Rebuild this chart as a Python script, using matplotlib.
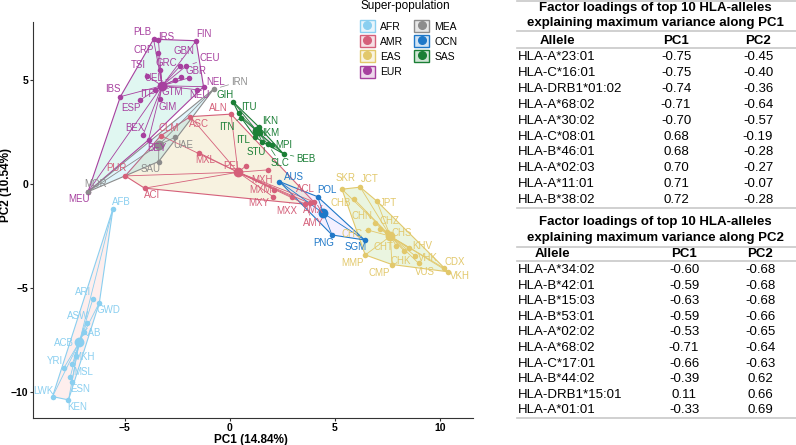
import numpy as np
import matplotlib
matplotlib.use("Agg")
import matplotlib.pyplot as plt
from matplotlib.patches import Patch, Polygon
from matplotlib.lines import Line2D
from matplotlib.legend_handler import HandlerTuple
from matplotlib.colors import to_rgba

plt.rcParams['font.family'] = ['Liberation Sans', 'DejaVu Sans']

groups = ['AFR', 'AMR', 'EAS', 'EUR', 'MEA', 'OCN', 'SAS']
colors = ['#8ACFF0', '#D5607A', '#E2C86B', '#A7409F', '#8C8C8C', '#1F78C8', '#1B7F36']
hull_fill = ['#F8766D', '#C49A00', '#53B400', '#00C094', '#00B6EB', '#A58AFF', '#FB61D7']

# population coordinates on PC1 / PC2
afr_pop = ['AFB', 'ARI', 'GWD', 'ASW', 'KAB', 'ACB', 'MKH', 'MSL', 'YRI', 'SLE', 'ESN', 'LWK', 'KEN']
afr_pc1 = [-5.56, -6.52, -6.21, -6.80, -6.96, -7.15, -7.31, -7.49, -7.91, -7.60, -7.52, -8.44, -7.68]
afr_pc2 = [-1.16, -5.52, -5.68, -6.64, -7.08, -7.50, -8.25, -8.63, -8.84, -9.27, -9.48, -10.20, -10.36]

amr_pop = ['ALN', 'ASC', 'CLM', 'MXL', 'PEL', 'MXH', 'MXM', 'MXY', 'MXX', 'ACL', 'AMX', 'AMY', 'PUR', 'ACI']
amr_pc1 = [0.06, -1.88, -3.28, -1.48, 0.77, 1.80, 2.12, 2.06, 2.96, 3.99, 3.80, 3.60, -4.98, -4.06]
amr_pc2 = [3.38, 3.26, 2.35, 1.53, 0.89, 0.70, -0.26, -0.59, -0.59, -0.83, -0.90, -0.95, 0.41, -0.18]

eas_pop = ['SKR', 'JCT', 'CHB', 'JPT', 'CHN', 'CHZ', 'CHC', 'CHS', 'CHT', 'KHV', 'CHK', 'VHK',
           'MMP', 'CMP', 'VUS', 'CDX', 'VKH']
eas_pc1 = [5.34, 6.21, 5.93, 7.00, 6.93, 7.17, 6.56, 7.50, 7.93, 8.51, 8.30, 8.83, 6.45, 7.72, 9.00, 10.21, 10.40]
eas_pc2 = [-0.23, -0.13, -0.71, -0.80, -1.87, -2.15, -2.19, -2.30, -2.96, -3.07, -3.20, -3.44,
           -3.39, -3.85, -3.80, -4.03, -4.20]

eur_pop = ['PLB', 'IRS', 'FIN', 'CRP', 'GRC', 'GBN', 'CEU', 'TSI', 'UEL', 'ORK', 'GBR', 'NEL', 'NEU',
           'IBS', 'ESP', 'ITF', 'GTM', 'GIM', 'BEX', 'BEY', 'MEU']
eur_pc1 = [-3.63, -3.40, -1.60, -3.44, -3.31, -2.36, -2.07, -3.94, -2.60, -2.32, -1.96, -1.25, -1.55,
           -5.21, -4.26, -3.55, -3.20, -3.34, -4.13, -3.87, -6.75]
eur_pc2 = [6.98, 6.95, 6.91, 6.31, 5.50, 5.70, 5.70, 5.22, 5.02, 5.15, 5.12, 4.70, 4.55,
           4.22, 4.06, 4.54, 4.75, 4.10, 2.38, 2.14, -0.35]

mea_pop = ['IRN', 'UAE', 'SAU', 'MOR']
mea_pc1 = [-0.77, -2.60, -3.39, -6.75]
mea_pc2 = [4.58, 2.27, 1.10, -0.35]

ocn_pop = ['AUS', 'POL', 'PNG', 'SGM']
ocn_pc1 = [2.36, 4.18, 4.87, 6.42]
ocn_pc2 = [0.14, -0.59, -2.43, -2.67]

sas_pop = ['GIH', 'ITU', 'ITN', 'IKN', 'IKM', 'ITL', 'STU', 'MPI', 'SLC', 'BEB']
sas_pc1 = [0.15, 0.42, 0.55, 1.37, 1.45, 1.20, 1.53, 2.01, 1.80, 2.56]
sas_pc2 = [3.98, 3.42, 3.20, 2.78, 2.46, 2.30, 2.06, 1.90, 1.95, 1.47]

pops = [afr_pop, amr_pop, eas_pop, eur_pop, mea_pop, ocn_pop, sas_pop]
pc1s = [afr_pc1, amr_pc1, eas_pc1, eur_pc1, mea_pc1, ocn_pc1, sas_pc1]
pc2s = [afr_pc2, amr_pc2, eas_pc2, eur_pc2, mea_pc2, ocn_pc2, sas_pc2]

# label placement (pixels right / down from the point), like ggrepel put them
label_off = {
    'PLB': (-11, -7.6), 'IRS': (8, -3), 'FIN': (8, -6.7), 'CRP': (-14, -3.3), 'GBN': (3.3, -15.3),
    'CEU': (23.3, -7.7), 'GRC': (6, -7.3), 'TSI': (-8.4, -10.7), 'GBR': (7.7, -7.3), 'UEL': (-21.7, -1.7),
    'NEL': (12.4, -5), 'IBS': (-7.3, -7.4), 'ITF': (-8.3, 4.3), 'GTM': (10, 6), 'NEU': (2.3, 5.1),
    'ESP': (-9.3, 8.3), 'GIM': (8.4, 8), 'BEX': (-8.4, -7.3), 'BEY': (8.4, 8.3), 'MEU': (-8.7, 7.6),
    'IRN': (26, -7.6), 'UAE': (8.3, 7.7), 'SAU': (-8.3, 7.6), 'MOR': (7.3, -7.4),
    'ALN': (-13, -6), 'ASC': (8.3, 7.6), 'CLM': (7.6, -8), 'MXL': (6.7, 7.3), 'PEL': (-14, 0),
    'MXH': (-5.6, 10), 'MXM': (-14, 0), 'MXY': (-14.4, 6.6), 'MXX': (-5.7, 14.3), 'ACL': (-8.3, -12.4),
    'AMX': (4, 6.8), 'AMY': (7.6, 19), 'PUR': (-8.3, -7.7), 'ACI': (8, 6.7),
    'AUS': (14.3, -5), 'POL': (9.4, -6.7), 'PNG': (-8.4, 7.7), 'SGM': (-8.6, 7.3),
    'SKR': (3.3, -11.6), 'JCT': (9.3, -8), 'CHB': (-13.3, 3.4), 'JPT': (11.8, 2.2), 'CHN': (-13.3, -7.3),
    'CHZ': (9.3, -8.6), 'CHC': (-15.6, 4.3), 'CHS': (14.7, 1), 'CHT': (-12.7, 0.7), 'KHV': (13.4, -2.3),
    'CHK': (-3, 9.6), 'VHK': (12.3, 2.3), 'MMP': (-13.3, 8.3), 'CMP': (-12.3, 8.7), 'VUS': (6.5, 9),
    'CDX': (10.7, -6.6), 'VKH': (12, 4),
    'GIH': (-7.7, -6.7), 'ITU': (10, -6.6), 'ITN': (-15, 8.7), 'IKN': (11.7, -6), 'IKM': (10, 0),
    'ITL': (-12, 3.3), 'STU': (-5.7, 10), 'MPI': (11.6, 0), 'SLC': (12.7, 19.4), 'BEB': (22.7, 5),
    'AFB': (8, -7), 'ARI': (-9.4, -7), 'GWD': (9.3, 7.3), 'ASW': (-8.4, -7), 'KAB': (7.4, 1.6),
    'ACB': (-16, 2.8), 'MKH': (7.3, 0.7), 'YRI': (-8.3, -7.3), 'MSL': (11, 7.7), 'ESN': (8.3, 7.6),
    'LWK': (-9, -6), 'KEN': (8.4, 7.3),
}

# loadings tables
t1_allele = ['HLA-A*23:01', 'HLA-C*16:01', 'HLA-DRB1*01:02', 'HLA-A*68:02', 'HLA-A*30:02',
             'HLA-C*08:01', 'HLA-B*46:01', 'HLA-A*02:03', 'HLA-A*11:01', 'HLA-B*38:02']
t1_pc1 = [-0.75, -0.75, -0.74, -0.71, -0.70, 0.68, 0.68, 0.70, 0.71, 0.72]
t1_pc2 = [-0.45, -0.40, -0.36, -0.64, -0.57, -0.19, -0.28, -0.27, -0.07, -0.28]

t2_allele = ['HLA-A*34:02', 'HLA-B*42:01', 'HLA-B*15:03', 'HLA-B*53:01', 'HLA-A*02:02',
             'HLA-A*68:02', 'HLA-C*17:01', 'HLA-B*44:02', 'HLA-DRB1*15:01', 'HLA-A*01:01']
t2_pc1 = [-0.60, -0.59, -0.63, -0.59, -0.53, -0.71, -0.66, -0.39, 0.11, -0.33]
t2_pc2 = [-0.68, -0.68, -0.68, -0.66, -0.65, -0.64, -0.63, 0.62, 0.66, 0.69]


def convex_hull(x, y):
    pts = sorted(set(zip(x, y)))
    def cross(o, a, b):
        return (a[0] - o[0]) * (b[1] - o[1]) - (a[1] - o[1]) * (b[0] - o[0])
    lower, upper = [], []
    for p in pts:
        while len(lower) >= 2 and cross(lower[-2], lower[-1], p) <= 0:
            lower.pop()
        lower.append(p)
    for p in reversed(pts):
        while len(upper) >= 2 and cross(upper[-2], upper[-1], p) <= 0:
            upper.pop()
        upper.append(p)
    return np.array(lower[:-1] + upper[:-1])


fig = plt.figure(figsize=(7.96, 4.45), dpi=100)
ax = fig.add_axes([33 / 796, 1 - 418 / 445, 440 / 796, 396 / 445])

for g, c, hf, names, xs, ys in zip(groups, colors, hull_fill, pops, pc1s, pc2s):
    xs = np.array(xs)
    ys = np.array(ys)
    cx, cy = xs.mean(), ys.mean()
    hull = convex_hull(xs, ys)
    ax.add_patch(Polygon(hull, closed=True, facecolor=to_rgba(hf, 0.12), edgecolor=c, lw=0.8, zorder=1))
    for x, y in zip(xs, ys):
        ax.plot([cx, x], [cy, y], color=c, lw=0.6, zorder=2)
    ax.scatter(xs, ys, s=16, color=c, zorder=3, linewidths=0)
    ax.scatter([cx], [cy], s=50, color=c, zorder=3.5, linewidths=0)
    for n, x, y in zip(names, xs, ys):
        if n not in label_off:
            continue
        dx, dy = label_off[n]
        arrow = None
        if np.hypot(dx, dy) > 15:
            arrow = dict(arrowstyle='-', color=c, lw=0.5, shrinkA=0, shrinkB=5)
        ax.annotate(n, (x, y), xytext=(dx, -dy), textcoords='offset pixels', color=c,
                    fontsize=7, ha='center', va='center', zorder=4, arrowprops=arrow)

ax.set_xlim(-9.37, 11.58)
ax.set_ylim(-11.23, 7.81)
ax.set_xticks([-5, 0, 5, 10])
ax.set_yticks([-10, -5, 0, 5])
for s in ['top', 'right']:
    ax.spines[s].set_visible(False)
for s in ['left', 'bottom']:
    ax.spines[s].set_linewidth(0.8)
    ax.spines[s].set_color('#333333')
ax.tick_params(length=2.5, width=0.8, labelsize=7.5, pad=0.8, colors='#333333', labelcolor='black')
for lb in ax.get_xticklabels() + ax.get_yticklabels():
    lb.set_fontweight('bold')
ax.set_xlabel('PC1 (14.84%)', fontsize=8.5, fontweight='bold')
ax.set_ylabel('PC2 (10.54%)', fontsize=8.5, fontweight='bold')
ax.xaxis.set_label_coords(0.495, -0.04)
ax.yaxis.set_label_coords(-0.047, 0.588)

handles = [(Patch(facecolor=to_rgba(c, 0.2), edgecolor=c, lw=1),
            Line2D([], [], ls='', marker='o', color=c, ms=5.5)) for c in colors]
leg = fig.legend(handles, groups, handler_map={tuple: HandlerTuple(ndivide=1)},
                 loc='upper left', bbox_to_anchor=(359 / 796, 1.003), ncol=2, frameon=False,
                 fontsize=7.5, title='Super-population', title_fontsize=8.5,
                 handlelength=1.4, handleheight=1.4, handletextpad=0.5,
                 labelspacing=0.3, columnspacing=1.1, borderaxespad=0, borderpad=0.1)
leg._legend_box.align = 'left'
leg._legend_box.sep = 6

# tables drawn in pixel coordinates
tab = fig.add_axes([0, 0, 1, 1])
tab.set_xlim(0, 796)
tab.set_ylim(445, 0)
tab.axis('off')
line_c = '#C8C8C8'


def draw_table(title, title_y, lines_y, head_y, row0, step, alleles, v1, v2, xh, x1, x2):
    for t, y in zip(title, title_y):
        tab.text(655, y, t, fontsize=9.5, fontweight='bold', ha='center', va='center')
    for y in lines_y:
        tab.plot([517, 796], [y, y], color=line_c, lw=1.2)
    tab.text(xh, head_y, 'Allele', fontsize=9.5, fontweight='bold', ha='center', va='center')
    tab.text(x1, head_y, 'PC1', fontsize=9.5, fontweight='bold', ha='center', va='center')
    tab.text(x2, head_y, 'PC2', fontsize=9.5, fontweight='bold', ha='center', va='center')
    for i, (a, p1, p2) in enumerate(zip(alleles, v1, v2)):
        y = row0 + i * step
        tab.text(518, y, a, fontsize=9.5, ha='left', va='center')
        tab.text(x1, y, '%.2f' % p1, fontsize=9.5, ha='center', va='center')
        tab.text(x2, y, '%.2f' % p2, fontsize=9.5, ha='center', va='center')


draw_table(['Factor loadings of top 10 HLA-alleles', 'explaining maximum variance along PC1'],
           [7.5, 23], [1, 31, 48, 208], 40.5, 57, 15.9,
           t1_allele, t1_pc1, t1_pc2, 557, 676, 758)
draw_table(['Factor loadings of top 10 HLA-alleles', 'explaining maximum variance along PC2'],
           [222, 238.5], [246.5, 261, 417.5], 254, 270, 15.6,
           t2_allele, t2_pc1, t2_pc2, 552, 684, 760)

fig.savefig('out.png', dpi=100)
